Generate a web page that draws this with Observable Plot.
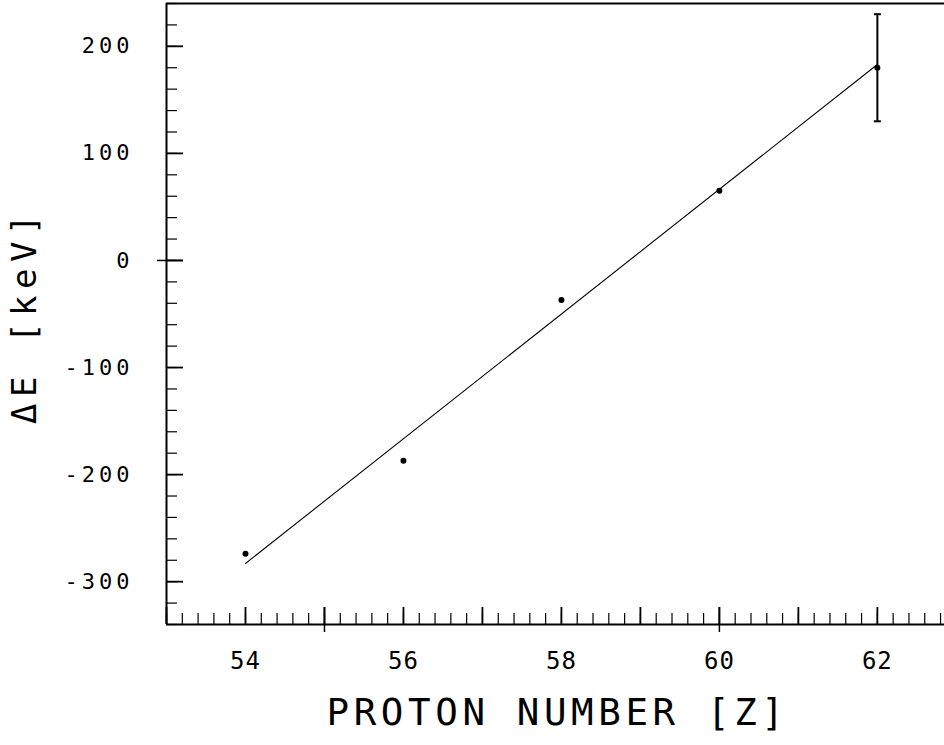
<!DOCTYPE html>
<html><head><meta charset="utf-8">
<script src="https://cdn.jsdelivr.net/npm/d3@7"></script>
<script src="https://cdn.jsdelivr.net/npm/@observablehq/plot@0.6"></script>
<style>body{margin:0;background:#fff;}</style>
</head><body><div id="chart"></div>
<script>
// Data
const protonZ = [54, 56, 58, 60, 62];
const deltaE = [-274, -187, -37, 65, 180];
const deltaErr = [0, 0, 0, 0, 50];
const fitZ = [54, 62];
const fitE = [-283, 183];

// Axis ticks
const xLabelTicks = [54, 56, 58, 60, 62];
const yLabelTicks = [-300, -200, -100, 0, 100, 200];
const xMajorTicks = [53, 54, 55, 56, 57, 58, 59, 60, 61, 62];
const xCrossTicks = [55, 60];
const yMajorTicks = [-300, -200, -100, 0, 100, 200];
const yCrossTicks = [0];
const xMinorTicks = d3.range(265, 315).map(d => d / 5);
const yMinorTicks = d3.range(-17, 13).map(d => d * 20);
const xDomain = [53, 62.85];
const yDomain = [-340, 240];
const xTitle = "PROTON NUMBER [Z]";
const yTitle = "ΔE [keV]";

const W = 944, H = 745, mL = 166, mT = 3, mB = 121, mR = 0;
const frameW = W - mL - mR, frameH = H - mT - mB;
const font = "DejaVu Sans Mono";

const points = protonZ.map((z, i) => ({z, e: deltaE[i], err: deltaErr[i]}));
const errPoints = points.filter(d => d.err > 0);
const fit = fitZ.map((z, i) => ({z, e: fitE[i]}));

const capSymbol = {draw(ctx, size) { ctx.moveTo(-3.5, 0); ctx.lineTo(3.5, 0); }};

const chart = Plot.plot({
  width: W, height: H,
  marginLeft: mL, marginTop: mT, marginBottom: mB, marginRight: mR,
  x: {domain: xDomain, axis: null},
  y: {domain: yDomain, axis: null},
  style: {fontFamily: font, background: "#fff", color: "#000"},
  marks: [
    // minor ticks (inward)
    Plot.tickX(xMinorTicks, {x: d => d, insetTop: frameH - 11, stroke: "#000", strokeWidth: 1.2}),
    Plot.tickY(yMinorTicks, {y: d => d, insetRight: frameW - 11, stroke: "#000", strokeWidth: 1.2}),
    // major ticks
    Plot.tickX(xMajorTicks, {x: d => d, insetTop: frameH - 17, stroke: "#000", strokeWidth: 1.8}),
    Plot.tickY(yMajorTicks, {y: d => d, insetRight: frameW - 17, stroke: "#000", strokeWidth: 1.8}),
    // crossing ticks
    Plot.tickX(xCrossTicks, {x: d => d, insetTop: frameH - 17, insetBottom: -8, stroke: "#000", strokeWidth: 1.5}),
    Plot.tickY(yCrossTicks, {y: d => d, insetRight: frameW - 17, insetLeft: -9, stroke: "#000", strokeWidth: 1.5}),
    // frame lines
    Plot.ruleX([xDomain[0]], {stroke: "#000", strokeWidth: 2}),
    Plot.ruleY([yDomain[0]], {stroke: "#000", strokeWidth: 2}),
    Plot.ruleY([yDomain[1]], {stroke: "#000", strokeWidth: 2}),
    // fit line
    Plot.line(fit, {x: "z", y: "e", stroke: "#000", strokeWidth: 1.1}),
    // error bars
    Plot.ruleX(errPoints, {x: "z", y1: d => d.e - d.err, y2: d => d.e + d.err, stroke: "#000", strokeWidth: 2}),
    Plot.dot(errPoints, {x: "z", y: d => d.e - d.err, symbol: capSymbol, stroke: "#000", strokeWidth: 2}),
    Plot.dot(errPoints, {x: "z", y: d => d.e + d.err, symbol: capSymbol, stroke: "#000", strokeWidth: 2}),
    // data points
    Plot.dot(points, {x: "z", y: "e", r: 3, fill: "#000", stroke: null}),
    // tick labels
    Plot.text(xLabelTicks, {x: d => d, text: d => String(d), frameAnchor: "bottom", dy: 44, fontSize: 24, fill: "#000"}),
    Plot.text(yLabelTicks, {y: d => d, text: d => String(d), frameAnchor: "left", dx: -33, textAnchor: "end", fontSize: 22, fill: "#000"}),
    // axis titles
    Plot.text([xTitle], {text: d => d, frameAnchor: "bottom", textAnchor: "middle", dx: 2, dy: 100, fontSize: 37.5, fill: "#000"}),
    Plot.text([yTitle], {text: d => d, frameAnchor: "left", textAnchor: "middle", dx: -141, dy: 2, rotate: -90, fontSize: 34, fill: "#000"})
  ]
});

const yLabelSet = new Set(yLabelTicks.map(String));
const xLabelSet = new Set(xLabelTicks.map(String));
chart.querySelectorAll("text").forEach(t => {
  const s = t.textContent;
  if (s === xTitle) t.style.letterSpacing = "4.6px";
  else if (s === yTitle) t.style.letterSpacing = "6.5px";
  else if (yLabelSet.has(s)) t.style.letterSpacing = "4px";
  else if (xLabelSet.has(s)) t.style.letterSpacing = "1px";
});
document.getElementById("chart").appendChild(chart);
</script>
</body></html>
